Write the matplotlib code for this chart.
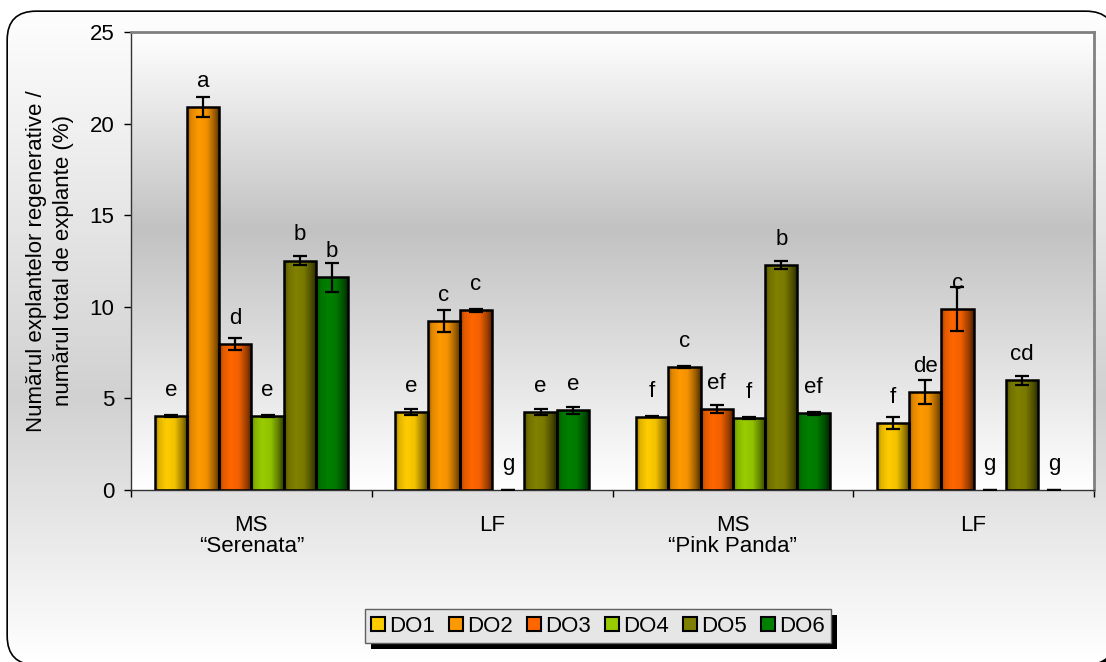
import numpy as np
import matplotlib.pyplot as plt
from matplotlib.patches import FancyBboxPatch, Rectangle
from matplotlib.colors import to_rgb

plt.rcParams['font.family'] = ['Liberation Sans', 'DejaVu Sans']

groups = ['MS\n“Serenata”', 'LF', 'MS\n“Pink Panda”', 'LF']
series = ['DO1', 'DO2', 'DO3', 'DO4', 'DO5', 'DO6']
colors = ['#FFCC00', '#FF9900', '#FF6600', '#99CC00', '#808000', '#008000']

# mean values per medium / cultivar
do1 = [4.05, 4.25, 4.0, 3.65]
do2 = [20.9, 9.2, 6.73, 5.33]
do3 = [7.95, 9.8, 4.4, 9.88]
do4 = [4.05, 0.0, 3.93, 0.0]
do5 = [12.52, 4.27, 12.28, 6.0]
do6 = [11.6, 4.35, 4.2, 0.0]

# standard errors
do1_err = [0.05, 0.18, 0.03, 0.33]
do2_err = [0.55, 0.6, 0.05, 0.65]
do3_err = [0.33, 0.08, 0.22, 1.18]
do4_err = [0.05, 0.0, 0.05, 0.0]
do5_err = [0.25, 0.17, 0.22, 0.25]
do6_err = [0.8, 0.18, 0.08, 0.0]

# significance letters
do1_sig = ['e', 'e', 'f', 'f']
do2_sig = ['a', 'c', 'c', 'de']
do3_sig = ['d', 'c', 'ef', 'c']
do4_sig = ['e', 'g', 'f', 'g']
do5_sig = ['b', 'e', 'b', 'cd']
do6_sig = ['b', 'e', 'ef', 'g']

values = [do1, do2, do3, do4, do5, do6]
errors = [do1_err, do2_err, do3_err, do4_err, do5_err, do6_err]
letters = [do1_sig, do2_sig, do3_sig, do4_sig, do5_sig, do6_sig]

FS = 16


def bar_gradient(color):
    # dark edges, bright band left of centre
    t = np.linspace(0, 1, 64)
    k = np.interp(t, [0, 0.12, 0.35, 0.6, 0.85, 1.0], [0.6, 0.88, 1.0, 0.95, 0.6, 0.3])
    rgb = np.array(to_rgb(color))
    return (k[:, None] * rgb[None, :])[None, :, :]


W, H = 1106, 662
fig = plt.figure(figsize=(W / 100, H / 100), dpi=100)
fig.patch.set_facecolor('white')

# rounded outer panel with grey vertical gradient
# (the panel runs past the canvas, so it needs a face: unfilled paths get line-clipped)
bg = fig.add_axes([0, 0, 1, 1], zorder=-1)
bg.axis('off')
box = dict(boxstyle='round,pad=0,rounding_size=28')
shadow = FancyBboxPatch((14, 18), 1106, 652, fc='black', ec='none', zorder=0, **box)
bg.add_patch(shadow)
panel = FancyBboxPatch((8, 12), 1106, 652, fc='white', ec='black', lw=2.4, zorder=0.5, **box)
bg.add_patch(panel)
t = np.linspace(0, 1, 256)
shade = np.interp(t, [0, 0.6, 1], [1.0, 0.82, 1.0])
im = bg.imshow(np.repeat(shade[:, None, None], 3, axis=2), extent=(0, W, H, 0),
               aspect='auto', zorder=1, interpolation='bilinear')
im.set_clip_path(panel)
bg.set_xlim(0, W)
bg.set_ylim(H, 0)

ax = fig.add_axes([131 / W, 1 - 490 / H, 963 / W, 458 / H])
ax.set_facecolor('none')
pshade = np.interp(t, [0, 0.43, 1], [1.0, 0.76, 1.0])
ax.imshow(np.repeat(pshade[:, None, None], 3, axis=2), extent=(0, 1, 0, 1),
          transform=ax.transAxes, aspect='auto', zorder=0, interpolation='bilinear')

n = len(series)
w = 1 / (n + 1.46)
x = np.arange(len(groups))
for i in range(n):
    pos = x + (i - (n - 1) / 2) * w
    bars = ax.bar(pos, values[i], w, color='none', edgecolor='black', lw=1.8, zorder=3)
    for rect, v in zip(bars, values[i]):
        if v == 0:
            rect.set_linewidth(0)
            continue
        x0 = rect.get_x()
        g = ax.imshow(bar_gradient(colors[i]), extent=(x0, x0 + w, 0, v), aspect='auto',
                      zorder=2, interpolation='bilinear')
        g.set_clip_path(rect)
    ax.errorbar(pos, values[i], yerr=errors[i], fmt='none', ecolor='black',
                elinewidth=1.6, capsize=5, capthick=1.6, zorder=4)
    for p, v, s in zip(pos, values[i], letters[i]):
        ax.text(p, v + 1.4, s, ha='center', va='center', fontsize=FS, zorder=5)

ax.set_xlim(-0.5, len(groups) - 0.5)
ax.set_ylim(0, 25)
ax.set_yticks(np.arange(0, 26, 5))
ax.tick_params(axis='y', direction='out', length=5, width=1, pad=7, labelsize=FS)
ax.set_xticks(np.arange(len(groups) + 1) - 0.5)
ax.set_xticklabels([])
ax.tick_params(axis='x', which='major', direction='out', length=5, width=1)
ax.set_xticks(x, minor=True)
ax.set_xticklabels(groups, minor=True)
ax.tick_params(axis='x', which='minor', length=0, pad=18, labelsize=FS)
for lab in ax.get_xticklabels(minor=True):
    lab.set_linespacing(1.0)

for side in ['top', 'right']:
    ax.spines[side].set_color('#808080')
    ax.spines[side].set_linewidth(2)
for side in ['left', 'bottom']:
    ax.spines[side].set_color('#333333')
    ax.spines[side].set_linewidth(1)

fig.text(50 / W, 1 - 261 / H, 'Numărul explantelor regenerative /\nnumărul total de explante (%)',
         rotation=90, ha='center', va='center', fontsize=FS, linespacing=1.4)

handles = [Rectangle((0, 0), 1, 1, fc=c, ec='black', lw=1.5) for c in colors]
leg = fig.legend(handles, series, loc='center', bbox_to_anchor=(598 / W, 1 - 626 / H),
                 ncol=6, fontsize=FS, handlelength=0.6, handleheight=0.6,
                 handletextpad=0.2, columnspacing=0.65, borderpad=0.3,
                 fancybox=False, edgecolor='#606060', facecolor='#e6e6e6', framealpha=1)
leg.get_frame().set_linewidth(1)
leg.set_zorder(5)

fig.canvas.draw()
bb = leg.get_window_extent()
fig.add_artist(Rectangle(((bb.x0 + 6) / W, (bb.y0 - 6) / H), bb.width / W, bb.height / H,
                         transform=fig.transFigure, fc='black', ec='none', zorder=4))

fig.savefig('out.png', dpi=100)
